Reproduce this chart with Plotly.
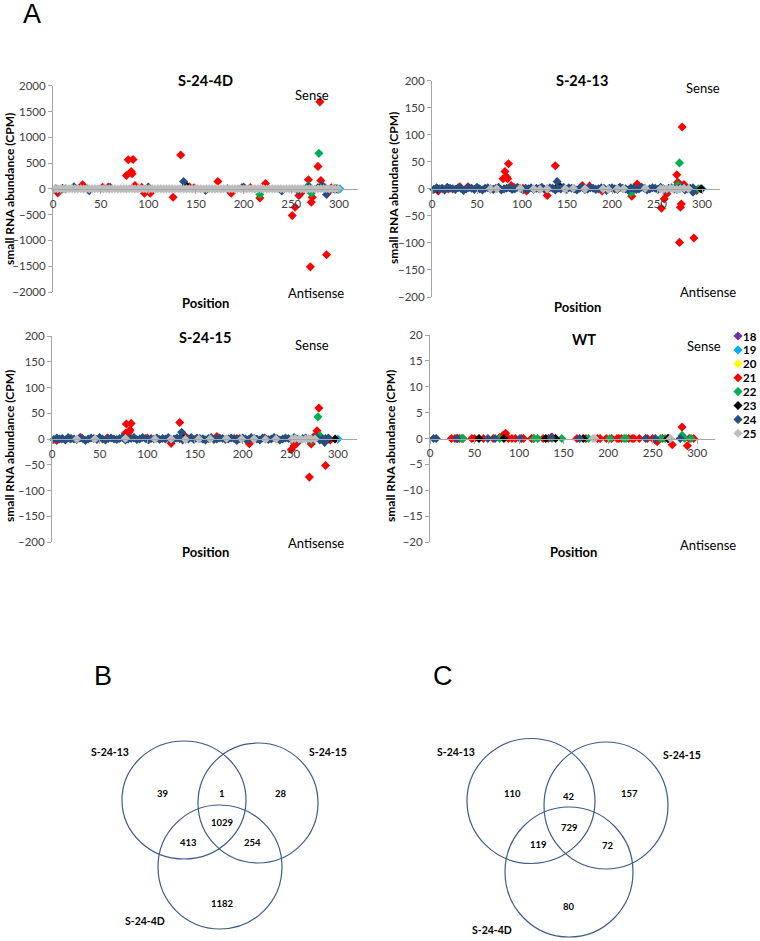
import plotly.graph_objects as go

# ---------------- DATA ----------------
SIZES = [18, 19, 20, 21, 22, 23, 24, 25]
PANEL_TITLES = ["S-24-4D", "S-24-13", "S-24-15", "WT"]
X_TICKS = [0, 50, 100, 150, 200, 250, 300]
Y_TICKS_4D = [-2000, -1500, -1000, -500, 0, 500, 1000, 1500, 2000]
Y_TICKS_MUT = [-200, -150, -100, -50, 0, 50, 100, 150, 200]
Y_TICKS_WT = [-20, -15, -10, -5, 0, 5, 10, 15, 20]

# dense near-zero background reads (positions and small CPM values)
BAND_X = [2, 5, 8, 11, 14, 17, 20, 23, 26, 29, 32, 35, 38, 41, 44, 47, 50, 53, 56, 59,
          62, 65, 68, 71, 74, 77, 80, 83, 86, 89, 92, 95, 98, 101, 104, 107, 110, 113, 116, 119,
          122, 125, 128, 131, 134, 137, 140, 143, 146, 149, 152, 155, 158, 161, 164, 167, 170, 173, 176, 179,
          182, 185, 188, 191, 194, 197, 200, 203, 206, 209, 212, 215, 218, 221, 224, 227, 230, 233, 236, 239,
          242, 245, 248, 251, 254, 257, 260, 263, 266, 269, 272, 275, 278, 281, 284, 287, 290, 293, 296, 299]
BAND_Y1 = [2, -1, 3, 0, -2, 1, 4, -1, 0, 2, -3, 1, 0, -1, 3, 1, -2, 0, 2, -1,
           1, 3, -2, 0, 1, -1, 2, 4, -3, 0, 1, 2, -1, 0, 3, -2, 1, 0, -1, 2,
           0, 1, -2, 3, 1, -1, 0, 2, -1, 1, 3, 0, -2, 1, 2, -1, 0, 1, -3, 2,
           1, 0, 2, -1, 3, 1, -2, 0, 1, 2, -1, 0, 3, 1, -2, 2, 0, -1, 1, 3,
           -2, 1, 0, 2, -1, 3, 0, 1, -2, 2, 1, -1, 0, 3, -1, 2, 0, 1, -2, 1]
BAND_Y2 = [-1, 2, 0, 1, -2, 3, 1, 0, -1, 2, 1, -3, 0, 2, 1, -1, 3, 0, -2, 1,
           2, 0, -1, 1, 3, -2, 0, 1, 2, -1, 0, 3, 1, -2, 1, 0, 2, -1, 1, 0,
           3, -1, 0, 2, 1, -2, 1, 0, 3, -1, 2, 1, 0, -2, 1, 3, -1, 0, 2, 1,
           -1, 0, 2, 1, -3, 1, 2, 0, -1, 3, 1, 0, -2, 2, 1, -1, 0, 3, 1, -2,
           0, 2, 1, -1, 3, 0, -2, 1, 2, 0, -1, 1, 3, -2, 0, 1, 2, -1, 0, 1]

# ---- S-24-4D ----
S4D_X18 = [296]; S4D_Y18 = [0]
S4D_X19 = [299, 301]; S4D_Y19 = [-5, 0]
S4D_X20 = [297]; S4D_Y20 = [5]
S4D_X21 = [5, 31, 52, 58, 77, 79, 82, 83, 84, 86, 93, 96, 100, 102, 126, 134, 139, 143, 148, 173,
           187, 198, 207, 217, 223, 251, 254, 258, 260, 268, 270, 271, 272, 278, 280, 281, 283, 287, 290, 292]
S4D_Y21 = [-78, 78, 30, 35, 260, 565, 337, 292, 570, 65, 30, -84, 25, -84, -162, 655, 60, 40, 20, 143,
           -84, 20, 25, -175, 104, -519, -357, -130, -84, 175, -1512, -260, -162, 435, 1687, 162, 60, -1279, -40, 20]
S4D_X22 = [10, 13, 36, 217, 268, 271, 279, 285, 296]
S4D_Y22 = [0, 0, 0, -110, 65, -84, 688, 30, 0]
S4D_X23 = [140, 278, 298]; S4D_Y23 = [60, 20, 0]
S4D_X24 = [3, 5, 10, 22, 38, 60, 100, 137, 160, 183, 200, 240, 258, 268, 282, 287, 295]
S4D_Y24 = [0, -20, 10, 40, -35, 30, 35, 143, -30, 0, 35, -40, -35, 40, 60, -110, 0]
S4D_X25 = BAND_X; S4D_Y25 = BAND_Y1

# ---- S-24-13 ----
S13_X19 = [300]; S13_Y19 = [0]
S13_X21 = [7, 18, 31, 40, 79, 81, 83, 84, 85, 88, 91, 101, 105, 128, 137, 140, 167, 175, 189, 208,
           222, 228, 255, 258, 261, 272, 273, 274, 275, 276, 277, 278, 280, 291, 294]
S13_Y21 = [-4, 0, 4, 4, 18.6, 32, 21.7, 18.6, 46.4, 6, 3, 1, -4, -12.4, 42.7, 5, 6, 5, -4, 2,
           -13.6, 9, -36, -18.6, -9, 26, 12, 10.5, -99, -34, -28, 114.5, 8, -91, -3]
S13_X22 = [12, 221, 273, 275, 296]; S13_Y22 = [0, -7.4, 7, 48, 0]
S13_X23 = [6, 141, 299]; S13_Y23 = [0, 6, 0]
S13_X24 = BAND_X[:97] + [139, 290]; S13_Y24 = BAND_Y2[:97] + [13.6, -6]
S13_X25 = [65, 72, 98, 113, 120, 128, 148, 157, 170, 190, 196, 206, 213, 237, 254, 257, 261, 265, 268, 272, 276, 280, 285]
S13_Y25 = [0, 0, 1, 0, -1, 0, 0, 1, 0, 0, -1, 0, 0, 1, 0, -1, 0, 1, 0, -1, 0, 1, 0]

# ---- S-24-15 ----
S15_X19 = [300]; S15_Y19 = [0]
S15_X21 = [5, 30, 58, 77, 78, 81, 82, 83, 86, 100, 125, 134, 140, 173, 194, 207, 223, 251, 254, 257,
           270, 272, 275, 278, 280, 287, 292]
S15_Y21 = [-3, 3, 2, 11, 29, 14, 17.4, 30.3, 3, 2, -8.4, 32, 5, 5, 1, -9, 2, -21, -13, -8,
           -74, -9.7, 5, 16, 60, -51.6, -2]
S15_X22 = [10, 19, 159, 272, 279, 281]; S15_Y22 = [0, 0, 0, -3, 43, 6.5]
S15_X23 = [137, 290, 297]; S15_Y23 = [3, 0, 0]
S15_X24 = BAND_X[:97] + [136, 286]; S15_Y24 = BAND_Y2[:97] + [13, -6.5]
S15_X25 = [26, 45, 77, 108, 125, 140, 154, 166, 183, 199, 212, 224, 235, 252, 255, 259, 262, 266, 269, 272, 276]
S15_Y25 = [0, 0, 1, 0, 0, -1, 0, 0, 1, 0, 0, -1, 0, 0, 1, 0, -1, 0, 1, 0, 0]

# ---- WT ----
WT_X21 = [24, 28, 31, 33, 37, 47, 50, 60, 71, 78, 82, 85, 88, 92, 96, 103, 105, 114, 116, 127,
          133, 137, 165, 175, 188, 191, 198, 204, 210, 212, 215, 223, 227, 229, 235, 244, 250, 253, 255, 261,
          272, 283, 289, 291, 296]
WT_Y21 = [0, 0, 0, 0, 0, 0, 0, 0, 0, 0.2, 0.6, 1.0, 0, 0, 0, 0, 0, 0, 0, 0,
          0, 0.3, 0, 0, 0, 0, 0, 0, 0, 0, 0, 0, 0, 0, 0, 0, 0, -0.3, -0.6, 0,
          -1.2, 2.2, -1.4, 0, 0]
WT_X22 = [35, 37, 78, 117, 121, 137, 148, 178, 202, 218, 220, 259, 264, 283, 286, 293]
WT_Y22 = [0, 0, 0, 0, 0, 0, 0, 0, 0, 0, 0, 0, 0, 0.6, 0, 0]
WT_X23 = [55, 83, 130, 141, 172, 267, 268]; WT_Y23 = [0, 0, 0, 0, 0, 0, 0]
WT_X24 = [4, 7, 30, 65, 73, 101, 136, 168, 242, 253, 281]
WT_Y24 = [0, 0, 0, 0, 0, 0, 0.2, 0, 0, 0, 0]
WT_X25 = [183, 185, 270]; WT_Y25 = [0, 0, 0]

# ---- Venn counts: [13 only, 15 only, 4D only, 13&15, 13&4D, 15&4D, all three] ----
VENN_SETS = ["S-24-13", "S-24-15", "S-24-4D"]
VENN_B_COUNTS = [39, 28, 1182, 1, 413, 254, 1029]
VENN_C_COUNTS = [110, 157, 80, 42, 119, 72, 729]

# ---------------- STYLE / LAYOUT ----------------
W, H = 760, 941
COLORS = {18: "#7030A0", 19: "#00B0F0", 20: "#FFFF00", 21: "#FF0000",
          22: "#00B050", 23: "#000000", 24: "#264E80", 25: "#BDBDBD"}
FONT = "Lato"
AXC = "#A6A6A6"
TICKC = "#404040"

def px(x):
    return x / W

def py(y):
    return 1 - y / H

# plot rectangles in page pixels: (left, right, top, bottom)
RECTS = [(53, 358, 85.7, 292), (432, 720, 80.7, 297), (52, 357, 336, 542), (430, 715, 335, 542)]
Y_TICKS = [Y_TICKS_4D, Y_TICKS_MUT, Y_TICKS_MUT, Y_TICKS_WT]

PANEL_SERIES = [
    {18: (S4D_X18, S4D_Y18), 19: (S4D_X19, S4D_Y19), 20: (S4D_X20, S4D_Y20), 21: (S4D_X21, S4D_Y21),
     22: (S4D_X22, S4D_Y22), 23: (S4D_X23, S4D_Y23), 24: (S4D_X24, S4D_Y24), 25: (S4D_X25, S4D_Y25)},
    {19: (S13_X19, S13_Y19), 21: (S13_X21, S13_Y21), 22: (S13_X22, S13_Y22), 23: (S13_X23, S13_Y23),
     24: (S13_X24, S13_Y24), 25: (S13_X25, S13_Y25)},
    {19: (S15_X19, S15_Y19), 21: (S15_X21, S15_Y21), 22: (S15_X22, S15_Y22), 23: (S15_X23, S15_Y23),
     24: (S15_X24, S15_Y24), 25: (S15_X25, S15_Y25)},
    {21: (WT_X21, WT_Y21), 22: (WT_X22, WT_Y22), 23: (WT_X23, WT_Y23), 24: (WT_X24, WT_Y24),
     25: (WT_X25, WT_Y25)},
]

fig = go.Figure()
layout = dict(template="none", width=W, height=H, margin=dict(l=0, r=0, t=0, b=0, autoexpand=False),
              paper_bgcolor="white", plot_bgcolor="rgba(0,0,0,0)", showlegend=False,
              font=dict(family=FONT, color="black"))

for i, (series, rect, yt) in enumerate(zip(PANEL_SERIES, RECTS, Y_TICKS)):
    n = i + 1
    xa, ya = f"x{n}", f"y{n}"
    for s in SIZES:
        if s in series:
            xs, ys = series[s]
            fig.add_trace(go.Scatter(x=xs, y=ys, mode="markers", name=str(s),
                                     marker=dict(symbol="diamond", size=7, color=COLORS[s],
                                                 line=dict(width=0)),
                                     xaxis=xa, yaxis=ya, showlegend=False, cliponaxis=False))
    l, r, t, b = rect
    ydom = [py(b), py(t)]
    layout[f"xaxis{n}"] = dict(domain=[px(l), px(r)], range=[0, 320], anchor="free",
                               position=(ydom[0] + ydom[1]) / 2, automargin=False,
                               tickvals=X_TICKS, showgrid=False, zeroline=False,
                               showline=True, linecolor=AXC, linewidth=1,
                               ticks="outside", ticklen=4, tickcolor=AXC,
                               tickfont=dict(family=FONT, size=11.5, color=TICKC))
    layout[f"yaxis{n}"] = dict(domain=ydom, range=[yt[0], yt[-1]], anchor=xa, automargin=False,
                               tickvals=yt, showgrid=False, zeroline=False,
                               showline=True, linecolor=AXC, linewidth=1,
                               ticks="outside", ticklen=4, tickcolor=AXC,
                               tickfont=dict(family=FONT, size=11.5, color=TICKC))

# pixel overlay axis (page coordinates) for legend markers, labels and Venn diagrams
layout["xaxis5"] = dict(domain=[0, 1], range=[0, W], visible=False, anchor="y5", automargin=False)
layout["yaxis5"] = dict(domain=[0, 1], range=[H, 0], visible=False, anchor="x5", automargin=False)

ann = []

def text(x, y, s, size, bold=False, angle=0, family=FONT, xanchor="center", pad=1):
    ann.append(dict(x=x, y=y, xref="x5", yref="y5", text=s, showarrow=False,
                    xanchor=xanchor, yanchor="middle", textangle=angle, borderpad=pad,
                    font=dict(family=family, size=size, color="black", weight=700 if bold else 400)))

# manual legend
LEG_X, LEG_Y0, LEG_DY = 738, 336, 13.9
for k, s in enumerate(SIZES):
    fig.add_trace(go.Scatter(x=[LEG_X], y=[LEG_Y0 + k * LEG_DY], mode="markers",
                             marker=dict(symbol="diamond", size=7, color=COLORS[s], line=dict(width=0)),
                             xaxis="x5", yaxis="y5", showlegend=False, cliponaxis=False))
    text(LEG_X + 4, LEG_Y0 + k * LEG_DY, str(s), 11.5, bold=True, xanchor="left", pad=0)

# panel texts (title, sense, antisense, position, y-title)
PANEL_TEXT = [
    dict(title=(205, 80), sense=(312, 95), anti=(316, 293), pos=(205, 303), ytitle=(9, 189)),
    dict(title=(582, 80), sense=(703, 88), anti=(708, 292), pos=(577, 307), ytitle=(393, 188)),
    dict(title=(205, 337), sense=(312, 345), anti=(316, 543), pos=(205, 552), ytitle=(9, 446)),
    dict(title=(584, 339), sense=(704, 346), anti=(708, 545), pos=(573, 552), ytitle=(390, 446)),
]
for title, pt in zip(PANEL_TITLES, PANEL_TEXT):
    text(*pt["title"], title, 14.5, bold=True)
    text(*pt["sense"], "Sense", 13)
    text(*pt["anti"], "Antisense", 13)
    text(*pt["pos"], "Position", 13, bold=True)
    text(*pt["ytitle"], "small RNA abundance (CPM)", 12, bold=True, angle=-90)

# panel letters
text(32, 14, "A", 27, family="Liberation Sans")
text(103, 676, "B", 27, family="Liberation Sans")
text(443, 676, "C", 27, family="Liberation Sans")

# Venn geometry (page pixels): circles (cx, cy, rx, ry) for [13, 15, 4D]
VENN_LAYOUT = [
    dict(circles=[(184, 800, 62, 59), (258, 803, 60, 60), (220, 867, 62, 62)],
         labels=[(110, 752), (328, 752), (145, 921)],
         counts=[(163, 793), (281, 793), (222, 903), (222, 793), (188, 842), (252, 842), (222, 822)],
         values=VENN_B_COUNTS),
    dict(circles=[(531, 801, 64, 62.5), (606, 805.5, 62, 63.5), (569, 872, 64, 65)],
         labels=[(456, 752), (682, 755), (492, 930)],
         counts=[(512, 793), (629, 793), (569, 906), (569, 796), (538, 844), (608, 845), (569, 827)],
         values=VENN_C_COUNTS),
]
shapes = []
for v in VENN_LAYOUT:
    for (cx, cy, rx, ry) in v["circles"]:
        shapes.append(dict(type="circle", xref="x5", yref="y5", x0=cx - rx, x1=cx + rx,
                           y0=cy - ry, y1=cy + ry, line=dict(color="#3E5C88", width=1.2),
                           fillcolor="rgba(0,0,0,0)", layer="above"))
    for name, (lx, ly) in zip(VENN_SETS, v["labels"]):
        text(lx, ly, name, 10.5, bold=True)
    for val, (nx, ny) in zip(v["values"], v["counts"]):
        text(nx, ny, str(val), 9.5, bold=True)

layout["annotations"] = ann
layout["shapes"] = shapes
fig.update_layout(**layout)
fig.write_html("out.html", config={"displayModeBar": False},
               post_script="document.body.style.margin='0px';document.body.style.overflow='hidden';")
